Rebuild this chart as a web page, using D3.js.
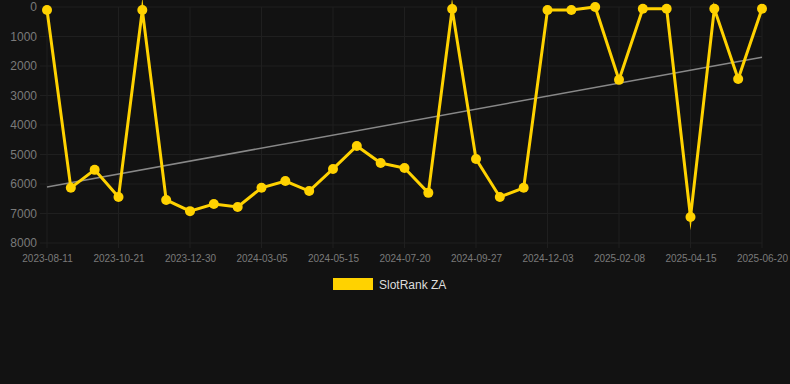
<!DOCTYPE html>
<html lang="en">
<head>
  <meta charset="utf-8">
  <title>SlotRank ZA</title>
  <script src="https://d3js.org/d3.v7.min.js"></script>
  <style>
    html, body {
      margin: 0;
      padding: 0;
      background: #121212;
    }
    body {
      font-family: "Liberation Sans", Arial, sans-serif;
    }
    .grid line {
      stroke: #1f1f1f;
      stroke-width: 1;
    }
    .axis text {
      fill: #7a7a7a;
    }
    .axis path,
    .axis line {
      display: none;
    }
  </style>
</head>
<body>
<svg id="chart" width="790" height="384"></svg>

<script>
  // Tick labels shown under the x axis (one every 3 points)
  const tickLabels = ["2023-08-11", "2023-10-21", "2023-12-30", "2024-03-05", "2024-05-15",
    "2024-07-20", "2024-09-27", "2024-12-03", "2025-02-08", "2025-04-15", "2025-06-20"];

  // Rank values, one per point (lower = better, axis reversed)
  const ranks = [100, 6130, 5520, 6440, 100, 6540, 6920, 6680, 6780, 6130,
    5900, 6240, 5490, 4710, 5290, 5460, 6300, 70, 5150, 6440,
    6130, 100, 100, 0, 2470, 60, 60, 7120, 60, 2440, 60];

  const yTicks = [0, 1000, 2000, 3000, 4000, 5000, 6000, 7000, 8000];
  const seriesName = "SlotRank ZA";
  const lineColor = "#ffd200";

  const svg = d3.select("#chart");
  const plotL = 47, plotR = 762, plotT = 7, plotB = 243;

  const x = d3.scaleLinear().domain([0, ranks.length - 1]).range([plotL, plotR]);
  const y = d3.scaleLinear().domain([0, 8000]).range([plotT, plotB]);

  const tickIdx = tickLabels.map((d, i) => i * 3);

  // Grille
  const grid = svg.append("g").attr("class", "grid");
  grid.selectAll(".h").data(yTicks).enter().append("line")
    .attr("x1", 40).attr("x2", plotR)
    .attr("y1", d => y(d)).attr("y2", d => y(d));
  grid.selectAll(".v").data(tickIdx).enter().append("line")
    .attr("x1", d => x(d)).attr("x2", d => x(d))
    .attr("y1", plotT).attr("y2", plotB + 5);

  // Axes
  svg.append("g").attr("class", "axis")
    .attr("transform", `translate(${plotL - 10},0)`)
    .call(d3.axisLeft(y).tickValues(yTicks).tickSize(0).tickPadding(0).tickFormat(d3.format("d")))
    .selectAll("text").style("font-size", "12px");

  svg.append("g").attr("class", "axis")
    .attr("transform", `translate(0,${plotB + 6})`)
    .call(d3.axisBottom(x).tickValues(tickIdx).tickSize(0).tickPadding(6)
      .tickFormat((d, i) => tickLabels[i]))
    .selectAll("text").style("font-size", "10px");

  // Tendance (régression linéaire)
  const n = ranks.length;
  const mx = d3.mean(ranks, (d, i) => i), my = d3.mean(ranks);
  const slope = d3.sum(ranks, (d, i) => (i - mx) * (d - my)) / d3.sum(ranks, (d, i) => (i - mx) * (i - mx));
  const icpt = my - slope * mx;
  svg.append("line")
    .attr("x1", x(0)).attr("y1", y(icpt))
    .attr("x2", x(n - 1)).attr("y2", y(icpt + slope * (n - 1)))
    .attr("stroke", "#888").attr("stroke-width", 1.5);

  // Courbe
  const line = d3.line().x((d, i) => x(i)).y(d => y(d));
  svg.append("path")
    .datum(ranks)
    .attr("fill", "none")
    .attr("stroke", lineColor)
    .attr("stroke-width", 3)
    .attr("stroke-miterlimit", 10)
    .attr("d", line);

  svg.selectAll(".pt").data(ranks).enter().append("circle")
    .attr("cx", (d, i) => x(i))
    .attr("cy", d => y(d))
    .attr("r", 5)
    .attr("fill", lineColor);

  // Légende
  svg.append("rect")
    .attr("x", 333).attr("y", 278).attr("width", 40).attr("height", 12)
    .attr("fill", lineColor);
  svg.append("text")
    .attr("x", 379).attr("y", 288.5)
    .attr("fill", "#dddddd")
    .style("font-size", "12px")
    .text(seriesName);
</script>
</body>
</html>
